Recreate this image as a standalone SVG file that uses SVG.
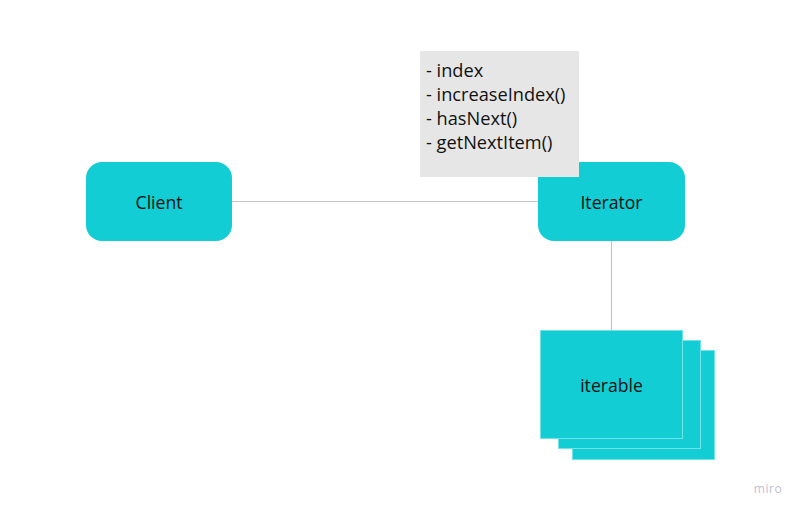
<svg xmlns="http://www.w3.org/2000/svg" width="800" height="510" viewBox="0 0 800 510">
<style>
.node{fill:#12cdd4;}
.stk{fill:#12cdd4;stroke:#6fe3e6;stroke-width:1;}
.lbl{font-family:"Open Sans","Noto Sans",sans-serif;font-size:17.6px;fill:#111111;text-anchor:middle;}
.note{font-family:"Open Sans","Noto Sans",sans-serif;font-size:18.2px;fill:#111111;}
.conn{stroke:#c4c4c4;stroke-width:1.2;fill:none;}
</style>
<rect width="800" height="510" fill="#ffffff"/>
<g id="connectors">
<line class="conn" x1="232" y1="201.5" x2="538" y2="201.5"/>
<line class="conn" x1="611.5" y1="241" x2="611.5" y2="330"/>
</g>
<g id="client">
<rect class="node" x="86" y="162" width="146" height="79" rx="16"/>
<text class="lbl" x="159" y="208.5">Client</text>
</g>
<g id="iterator">
<rect class="node" x="538" y="162" width="147" height="79" rx="16"/>
<text class="lbl" x="611.5" y="208.5">Iterator</text>
</g>
<g id="note">
<rect x="420" y="51" width="159" height="126" fill="#e6e6e6"/>
<text class="note" x="426" y="77">- index</text>
<text class="note" x="426" y="101">- increaseIndex()</text>
<text class="note" x="426" y="125">- hasNext()</text>
<text class="note" x="426" y="149">- getNextItem()</text>
</g>
<g id="iterable">
<rect class="stk" x="572.5" y="350.5" width="142" height="109"/>
<rect class="stk" x="558.5" y="340.5" width="142" height="108"/>
<rect class="stk" x="540.5" y="330.5" width="142" height="108"/>
<text class="lbl" x="611.5" y="391.5">iterable</text>
</g>
<text x="768" y="493" font-family="'Open Sans','Noto Sans',sans-serif" font-size="12" fill="#c2c0d2" text-anchor="middle" letter-spacing="0.5">miro</text>
</svg>
